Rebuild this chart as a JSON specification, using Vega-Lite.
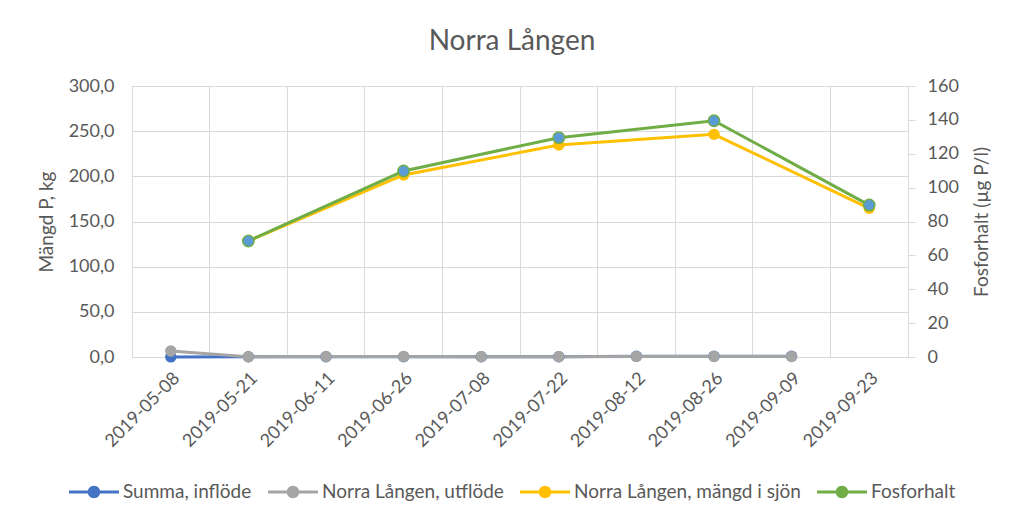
{
  "$schema": "https://vega.github.io/schema/vega-lite/v6.json",
  "width": 776,
  "height": 271,
  "autosize": "none",
  "padding": {"left": 132, "top": 86, "right": 116, "bottom": 170},
  "background": "white",
  "config": {
    "locale": {"number": {"decimal": ",", "thousands": " ", "grouping": [3], "currency": ["", " kr"]}},
    "font": "Lato",
    "view": {"stroke": null},
    "axis": {"labelFont": "Lato", "titleFont": "Lato", "labelColor": "#595959", "titleColor": "#595959", "labelFontSize": 18, "titleFontSize": 19, "titleFontWeight": "normal", "gridColor": "#D9D9D9", "domainColor": "#D9D9D9", "tickColor": "#D9D9D9"},
    "legend": {"labelFont": "Lato", "labelFontSize": 19, "labelColor": "#595959", "labelLimit": 0}
  },
  "title": {"text": "Norra Lången", "font": "Lato", "fontSize": 28, "fontWeight": "normal", "color": "#595959", "anchor": "middle", "dx": -8, "offset": 21},
  "datasets": {
    "mangd": [
      {"date": "2019-05-08", "series": "Summa, inflöde", "value": 0.1},
      {"date": "2019-05-21", "series": "Summa, inflöde", "value": 0.2},
      {"date": "2019-06-11", "series": "Summa, inflöde", "value": 0.3},
      {"date": "2019-06-26", "series": "Summa, inflöde", "value": 0.3},
      {"date": "2019-07-08", "series": "Summa, inflöde", "value": 0.3},
      {"date": "2019-07-22", "series": "Summa, inflöde", "value": 0.3},
      {"date": "2019-08-12", "series": "Summa, inflöde", "value": 0.8},
      {"date": "2019-08-26", "series": "Summa, inflöde", "value": 0.8},
      {"date": "2019-09-09", "series": "Summa, inflöde", "value": 0.8},
      {"date": "2019-05-08", "series": "Norra Lången, utflöde", "value": 6.6},
      {"date": "2019-05-21", "series": "Norra Lången, utflöde", "value": 0.3},
      {"date": "2019-06-11", "series": "Norra Lången, utflöde", "value": 0.5},
      {"date": "2019-06-26", "series": "Norra Lången, utflöde", "value": 0.5},
      {"date": "2019-07-08", "series": "Norra Lången, utflöde", "value": 0.4},
      {"date": "2019-07-22", "series": "Norra Lången, utflöde", "value": 0.4},
      {"date": "2019-08-12", "series": "Norra Lången, utflöde", "value": 0.5},
      {"date": "2019-08-26", "series": "Norra Lången, utflöde", "value": 0.5},
      {"date": "2019-09-09", "series": "Norra Lången, utflöde", "value": 0.5},
      {"date": "2019-05-21", "series": "Norra Lången, mängd i sjön", "value": 128.5},
      {"date": "2019-06-26", "series": "Norra Lången, mängd i sjön", "value": 201.5},
      {"date": "2019-07-22", "series": "Norra Lången, mängd i sjön", "value": 234.7},
      {"date": "2019-08-26", "series": "Norra Lången, mängd i sjön", "value": 246.5},
      {"date": "2019-09-23", "series": "Norra Lången, mängd i sjön", "value": 164.6}
    ],
    "fosfor": [
      {"date": "2019-05-21", "series": "Fosforhalt", "value": 68.5},
      {"date": "2019-06-26", "series": "Fosforhalt", "value": 109.8},
      {"date": "2019-07-22", "series": "Fosforhalt", "value": 129.5},
      {"date": "2019-08-26", "series": "Fosforhalt", "value": 139.5},
      {"date": "2019-09-23", "series": "Fosforhalt", "value": 89.7}
    ]
  },
  "encoding": {
    "x": {
      "field": "date", "type": "nominal", "sort": null,
      "scale": {"type": "band", "domain": ["2019-05-08", "2019-05-21", "2019-06-11", "2019-06-26", "2019-07-08", "2019-07-22", "2019-08-12", "2019-08-26", "2019-09-09", "2019-09-23"], "paddingInner": 0, "paddingOuter": 0}
    },
    "color": {
      "field": "series", "type": "nominal",
      "scale": {"domain": ["Summa, inflöde", "Norra Lången, utflöde", "Norra Lången, mängd i sjön", "Fosforhalt"], "range": ["#4472C4", "#A5A5A5", "#FFC000", "#70AD47"]},
      "legend": {
        "title": null, "orient": "none", "direction": "horizontal", "legendX": -63, "legendY": 381,
        "symbolType": "M-1,-0.06H1V0.06H-1Z M0.25,0A0.25,0.25 0 1,1 -0.25,0A0.25,0.25 0 1,1 0.25,0Z",
        "symbolSize": 2500, "symbolStrokeWidth": 0, "labelOffset": 4, "columnPadding": 16, "labelLimit": 0,
        "encode": {"symbols": {"update": {"fill": {"scale": "color", "field": "value"}, "stroke": {"value": "transparent"}}}}
      }
    }
  },
  "layer": [
    {
      "data": {"name": "mangd"},
      "encoding": {
        "x": {"field": "date", "type": "nominal", "sort": null, "axis": {"title": null, "labelAngle": -45, "ticks": false, "grid": false, "domain": true, "labelPadding": 12}},
        "y": {"field": "value", "type": "quantitative", "scale": {"domain": [0, 300]}, "axis": {"title": "Mängd P, kg", "values": [0, 50, 100, 150, 200, 250, 300], "format": ".1f", "ticks": false, "domain": false, "labelPadding": 18, "titlePadding": 12, "grid": true}}
      },
      "layer": [
        {"mark": {"type": "line", "strokeWidth": 3}, "encoding": {}},
        {"mark": {"type": "point", "filled": true, "size": 130, "opacity": 1}, "encoding": {}}
      ]
    },
    {
      "data": {"name": "fosfor"},
      "encoding": {
        "x": {"field": "date", "type": "nominal", "sort": null, "axis": {"orient": "top", "title": null, "labels": false, "ticks": false, "domain": false, "grid": true, "bandPosition": 0}},
        "y": {"field": "value", "type": "quantitative", "scale": {"domain": [0, 160]}, "axis": {"orient": "right", "title": "Fosforhalt (µg P/l)", "titleAngle": 270, "titleBaseline": "top", "values": [0, 20, 40, 60, 80, 100, 120, 140, 160], "grid": false, "domain": true, "ticks": true, "tickSize": 7, "labelPadding": 12, "titlePadding": 14}}
      },
      "layer": [
        {"mark": {"type": "line", "strokeWidth": 3}, "encoding": {}},
        {"mark": {"type": "point", "filled": true, "size": 130, "opacity": 1, "fill": "#5B9BD5", "stroke": "#70AD47", "strokeWidth": 1.5}, "encoding": {}}
      ]
    }
  ],
  "resolve": {"scale": {"y": "independent"}, "axis": {"x": "independent"}}
}
